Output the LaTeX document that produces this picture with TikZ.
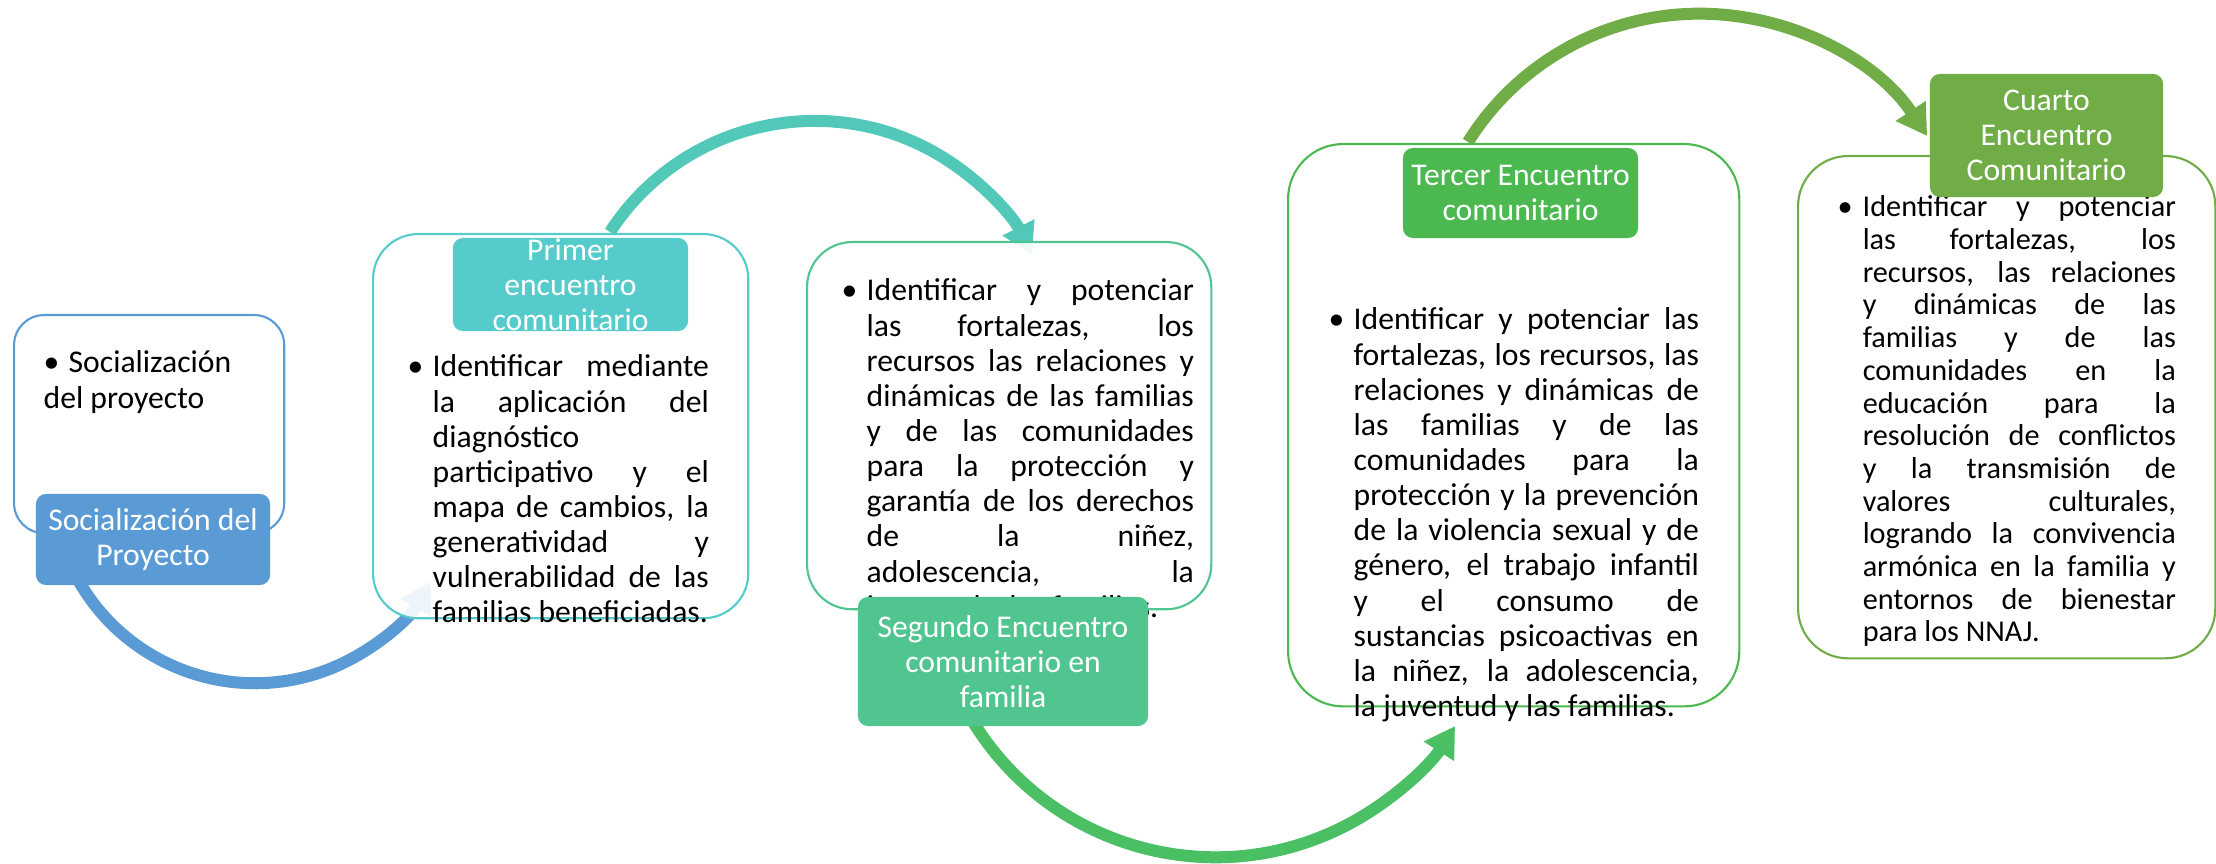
\documentclass[tikz,border=0pt]{standalone}
\usepackage{fontspec}
\setmainfont{Carlito}
\usepackage{tikz}
\usetikzlibrary{arrows.meta}

\definecolor{blueC}{HTML}{5B9BD5}
\definecolor{tealC}{HTML}{56CBCB}
\definecolor{tealArc}{HTML}{52C8B8}
\definecolor{jadeC}{HTML}{50C58F}
\definecolor{jadeArc}{HTML}{4BBF63}
\definecolor{grassC}{HTML}{4CB950}
\definecolor{leafC}{HTML}{70AD47}

\tolerance=10000
\hbadness=10000
\hyphenpenalty=10000
\exhyphenpenalty=10000
% bulleted paragraph with hanging indent
\newcommand{\bultext}[2]{\begin{minipage}[t]{#1}\noindent\hangindent=0.25cm\hangafter=1\rule{0pt}{8pt}\makebox[0.25cm][l]{\textbullet}#2\end{minipage}}

\begin{document}
\begin{tikzpicture}[x=0.01cm, y=-0.01cm,
    flow/.style={line width=0.12cm, -{Triangle[length=0.3cm,width=0.34cm]}},
    frame/.style={draw=#1, line width=0.6pt, fill=white, fill opacity=0.9,
        rounded corners=0.45cm, anchor=north west, inner sep=0},
    tag/.style={fill=#1, rounded corners=0.1cm, inner sep=0, text=white,
        align=center, font=\fontsize{9}{10}\selectfont},
    body/.style={anchor=north west, inner sep=0, font=\fontsize{9}{10}\selectfont}]
    \useasboundingbox (0,0) rectangle (2216,864);

    % arrows between the stages
    \coordinate (socout) at (71,566);
    \coordinate (primout) at (610,232);
    \coordinate (segout) at (969,715);
    \coordinate (terout) at (1468,142);
    \draw[flow, blueC] (socout) arc[start angle=155, end angle=30, radius=203];
    \draw[flow, tealArc] (primout) arc[start angle=213, end angle=333, radius=244];
    \draw[flow, jadeArc] (segout) arc[start angle=150, end angle=32.6, radius=284.5];
    \draw[flow, leafC] (terout) arc[start angle=212, end angle=326.5, radius=273];

    % frames
    \node[frame=blueC, rounded corners=0.3cm, minimum width=2.70cm, minimum height=2.18cm] (socbox) at (13,314) {};
    \node[frame=tealC, minimum width=3.75cm, minimum height=3.84cm] (primbox) at (372,233) {};
    \node[frame=jadeC, minimum width=4.04cm, minimum height=3.67cm] (segbox) at (806,241) {};
    \node[frame=grassC, rounded corners=0.55cm, minimum width=4.51cm, minimum height=5.62cm] (terbox) at (1287,143) {};
    \node[frame=leafC, rounded corners=0.5cm, minimum width=4.17cm, minimum height=5.02cm] (cuabox) at (1797,155) {};

    % texts
    \node[body] (soctxt) at (43,344) {\bultext{2.2cm}{\raggedright Socialización\\del proyecto}};
    \node[body] (primtxt) at (407,348) {\bultext{3.01cm}{Identificar mediante\linebreak la aplicación del\linebreak diagnóstico\linebreak participativo y el\linebreak mapa de cambios, la\linebreak generatividad y\linebreak vulnerabilidad de las\linebreak familias beneficiadas.}};
    \node[body] (segtxt) at (841,272) {\bultext{3.52cm}{Identificar y potenciar\linebreak las fortalezas, los\linebreak recursos las relaciones y\linebreak dinámicas de las familias\linebreak y de las comunidades\linebreak para la protección y\linebreak garantía de los derechos\linebreak de la niñez,\linebreak adolescencia, la\linebreak juventud y las familias.}};
    \node[body] (tertxt) at (1328,301) {\bultext{3.70cm}{Identificar y potenciar las\linebreak fortalezas, los recursos, las\linebreak relaciones y dinámicas de\linebreak las familias y de las\linebreak comunidades para la\linebreak protección y la prevención\linebreak de la violencia sexual y de\linebreak género, el trabajo infantil\linebreak y el consumo de\linebreak sustancias psicoactivas en\linebreak la niñez, la adolescencia,\linebreak la juventud y las familias.}};
    \node[body, font=\fontsize{8.6}{9.3}\selectfont] (cuatxt) at (1837,188) {\bultext{3.38cm}{Identificar y potenciar\linebreak las fortalezas, los\linebreak recursos, las relaciones\linebreak y dinámicas de las\linebreak familias y de las\linebreak comunidades en la\linebreak educación para la\linebreak resolución de conflictos\linebreak y la transmisión de\linebreak valores culturales,\linebreak logrando la convivencia\linebreak armónica en la familia y\linebreak entornos de bienestar\linebreak para los NNAJ.}};

    % stage labels
    \node[tag=blueC, minimum width=2.34cm, minimum height=0.91cm] (soctag) at (153,539.5) {Socialización del\\Proyecto};
    \node[tag=tealC, minimum width=2.35cm, minimum height=0.93cm] (primtag) at (570.5,284.5) {Primer\\encuentro\\comunitario};
    \node[tag=jadeC, minimum width=2.90cm, minimum height=1.29cm] (segtag) at (1003,661.5) {Segundo Encuentro\\comunitario en\\familia};
    \node[tag=grassC, minimum width=2.35cm, minimum height=0.90cm] (tertag) at (1520.5,193) {Tercer Encuentro\\comunitario};
    \node[tag=leafC, minimum width=2.33cm, minimum height=1.23cm] (cuatag) at (2046.5,135.5) {Cuarto\\Encuentro\\Comunitario};
\end{tikzpicture}
\end{document}
